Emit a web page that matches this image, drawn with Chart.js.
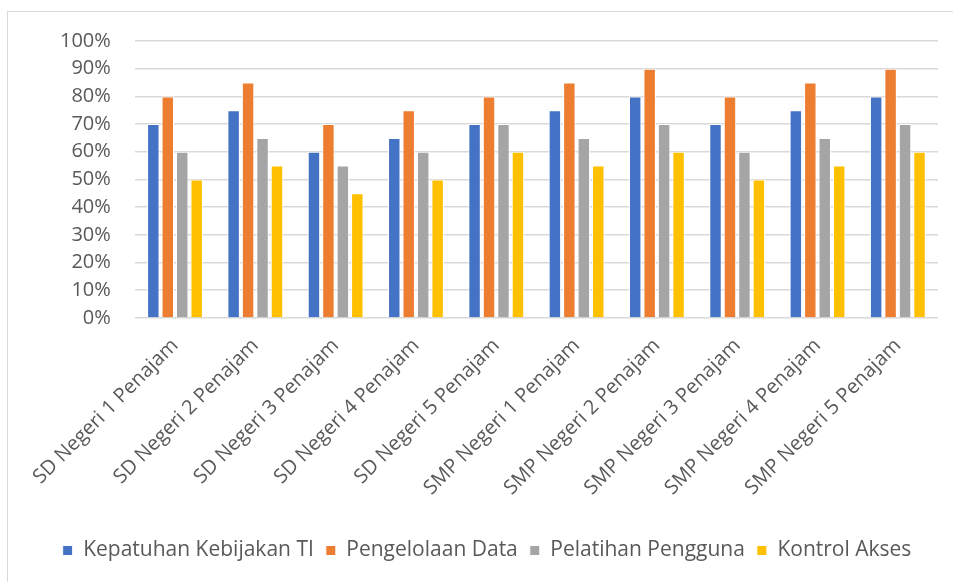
<!DOCTYPE html>
<html>
<head>
<meta charset="utf-8">
<script src="https://cdn.jsdelivr.net/npm/chart.js@4"></script>
<style>
  html, body { margin: 0; padding: 0; background: #fff; overflow: hidden; }
  .frame {
    position: absolute; left: 7px; top: 11px;
    width: 960px; height: 580px;
    border: 1px solid #d9d9d9; box-sizing: border-box;
  }
  .wrap { position: absolute; left: 0; top: 0; width: 945px; height: 570px; }
</style>
</head>
<body>
<div class="frame"><div class="wrap"><canvas id="chart"></canvas></div></div>
<script>
const schools = [
  "SD Negeri 1 Penajam", "SD Negeri 2 Penajam", "SD Negeri 3 Penajam",
  "SD Negeri 4 Penajam", "SD Negeri 5 Penajam", "SMP Negeri 1 Penajam",
  "SMP Negeri 2 Penajam", "SMP Negeri 3 Penajam", "SMP Negeri 4 Penajam",
  "SMP Negeri 5 Penajam",
];
const kepatuhan = [0.70, 0.75, 0.60, 0.65, 0.70, 0.75, 0.80, 0.70, 0.75, 0.80];
const pengelolaan = [0.80, 0.85, 0.70, 0.75, 0.80, 0.85, 0.90, 0.80, 0.85, 0.90];
const pelatihan = [0.60, 0.65, 0.55, 0.60, 0.70, 0.65, 0.70, 0.60, 0.65, 0.70];
const kontrol = [0.50, 0.55, 0.45, 0.50, 0.60, 0.55, 0.60, 0.50, 0.55, 0.60];
const yTicks = [0, 0.1, 0.2, 0.3, 0.4, 0.5, 0.6, 0.7, 0.8, 0.9, 1.0];

const font = "'Open Sans', 'Liberation Sans', sans-serif";
const textColor = "#595959";

function series(label, data, color) {
  return {
    label,
    data,
    backgroundColor: color,
    borderColor: "#ffffff",
    borderWidth: 1,
    categoryPercentage: 0.72,
    barPercentage: 0.86,
  };
}

new Chart(document.getElementById("chart"), {
  type: "bar",
  data: {
    labels: schools,
    datasets: [
      series("Kepatuhan Kebijakan TI", kepatuhan, "#4472c4"),
      series("Pengelolaan Data", pengelolaan, "#ed7d31"),
      series("Pelatihan Pengguna", pelatihan, "#a5a5a5"),
      series("Kontrol Akses", kontrol, "#ffc000"),
    ],
  },
  options: {
    responsive: true,
    maintainAspectRatio: false,
    animation: false,
    layout: { padding: { left: 28, right: 15, top: 0, bottom: 11 } },
    plugins: {
      tooltip: { enabled: false },
      legend: {
        position: "bottom",
        labels: {
          boxWidth: 10, boxHeight: 10, padding: 12,
          color: textColor, font: { family: font, size: 21 },
        },
      },
    },
    scales: {
      x: {
        grid: { display: false },
        border: { display: false },
        afterFit: (axis) => { axis.height += 20; },
        ticks: {
          color: textColor, font: { family: font, size: 20 },
          minRotation: 45, maxRotation: 45, padding: 8,
        },
      },
      y: {
        min: 0, max: 1,
        afterBuildTicks: (axis) => { axis.ticks = yTicks.map((v) => ({ value: v })); },
        // tick padding otherwise pushes the top of the plot down
        afterFit: (axis) => { axis.paddingTop = 29; },
        grid: { color: "#d9d9d9", lineWidth: 1.5, drawTicks: false },
        border: { display: false },
        ticks: {
          autoSkip: false,
          color: textColor, font: { family: font, size: 20 }, padding: 24,
          callback: (v) => Math.round(v * 100) + "%",
        },
      },
    },
  },
});
</script>
</body>
</html>
